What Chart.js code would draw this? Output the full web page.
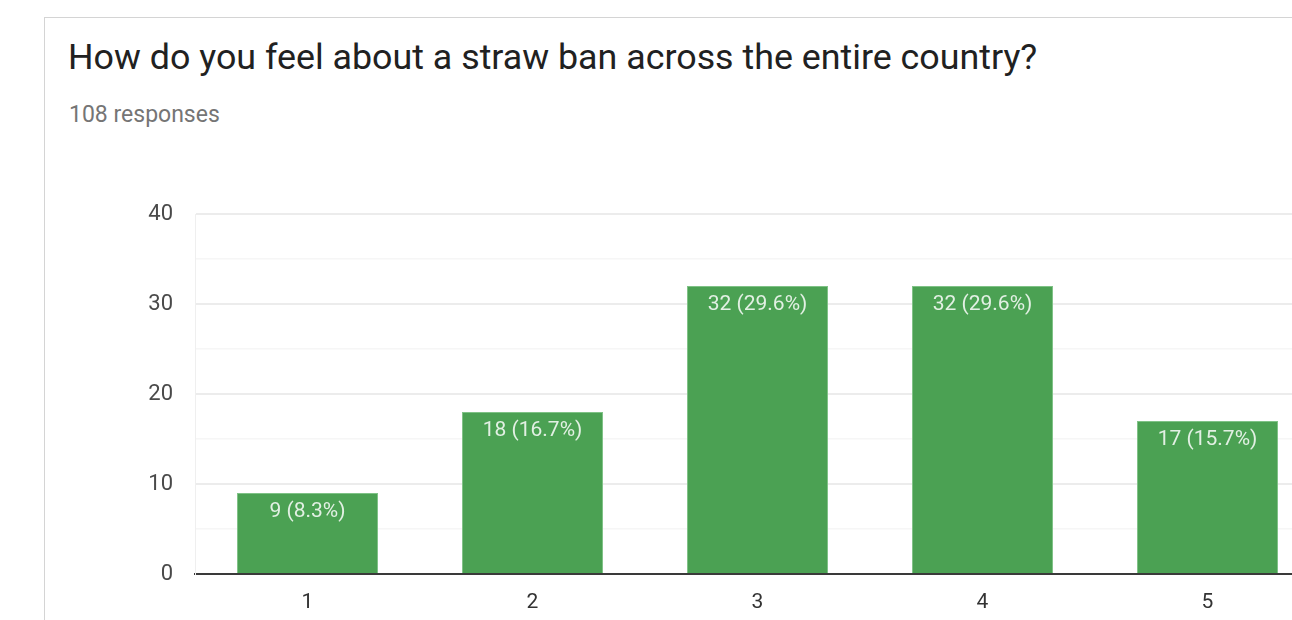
<!DOCTYPE html>
<html>
<head>
<meta charset="utf-8">
<script src="https://cdn.jsdelivr.net/npm/chart.js@4"></script>
<style>
  html, body { margin: 0; padding: 0; background: #fff; overflow: hidden; width: 1292px; height: 620px; }
  .card { position: absolute; left: 44px; top: 17px; width: 1400px; height: 700px;
          border-left: 1px solid #d4d4d4; border-top: 1px solid #d4d4d4; background: #fff; }
  .title { position: absolute; left: 68px; top: 40px; font: 35.8px Roboto, sans-serif; line-height: 1;
           color: #212121; white-space: nowrap; }
  .sub { position: absolute; left: 69px; top: 103px; font: 23px Roboto, sans-serif; line-height: 1;
         color: #757575; white-space: nowrap; }
  #chart { position: absolute; left: 0; top: 0; }
</style>
</head>
<body>
<div class="card"></div>
<div class="title">How do you feel about a straw ban across the entire country?</div>
<div class="sub">108 responses</div>
<canvas id="chart" width="1340" height="620"></canvas>
<script>
// Survey answers on a 1–5 scale and how many people picked each
const categories = ['1', '2', '3', '4', '5'];
const counts = [9, 18, 32, 32, 17];
const yTicks = [0, 10, 20, 30, 40];
const totalResponses = 108;

Chart.defaults.font.family = 'Roboto, sans-serif';

// Writes "count (percent%)" just inside the top of each bar
const barValueLabels = {
  id: 'barValueLabels',
  afterDatasetsDraw(chart) {
    const ctx = chart.ctx;
    const meta = chart.getDatasetMeta(0);
    ctx.save();
    ctx.font = '21px Roboto, sans-serif';
    ctx.fillStyle = 'rgba(255,255,255,0.84)';
    ctx.textAlign = 'center';
    ctx.textBaseline = 'middle';
    meta.data.forEach((bar, i) => {
      const v = counts[i];
      const pct = (v / totalResponses * 100).toFixed(1);
      ctx.fillText(v + ' (' + pct + '%)', bar.x, bar.y + 19);
    });
    ctx.restore();
  }
};

new Chart(document.getElementById('chart'), {
  type: 'bar',
  data: {
    labels: categories,
    datasets: [{
      data: counts,
      backgroundColor: '#4ba153',
      borderColor: '#7fc286',
      borderWidth: { top: 1, left: 1, right: 1, bottom: 0 },
      borderSkipped: 'bottom',
      categoryPercentage: 1,
      barPercentage: 0.627
    }]
  },
  options: {
    responsive: false,
    animation: false,
    layout: { padding: { left: 100, top: 214, right: 20, bottom: 0 } },
    plugins: { legend: { display: false }, tooltip: { enabled: false } },
    scales: {
      x: {
        grid: { display: false, drawTicks: false },
        border: { display: true, color: '#3a3a3a', width: 2 },
        ticks: { color: '#333', font: { size: 21 }, padding: 16 },
        afterFit(scale) { scale.height = 46; }
      },
      y: {
        min: yTicks[0],
        max: yTicks[yTicks.length - 1],
        ticks: {
          stepSize: 5,
          color: '#4a4a4a',
          font: { size: 22 },
          padding: 22,
          callback: (v) => yTicks.includes(v) ? String(v) : ''
        },
        grid: {
          drawTicks: false,
          color: (c) => c.tick.value === 0 ? 'rgba(0,0,0,0)'
                       : (c.tick.value % 10 === 0 ? '#ececec' : '#f6f6f6'),
          lineWidth: (c) => c.tick.value % 10 === 0 ? 2 : 1.5
        },
        border: { display: true, color: '#efefef', width: 1 },
        afterFit(scale) { scale.width = 95; }
      }
    }
  },
  plugins: [barValueLabels]
});
</script>
</body>
</html>
